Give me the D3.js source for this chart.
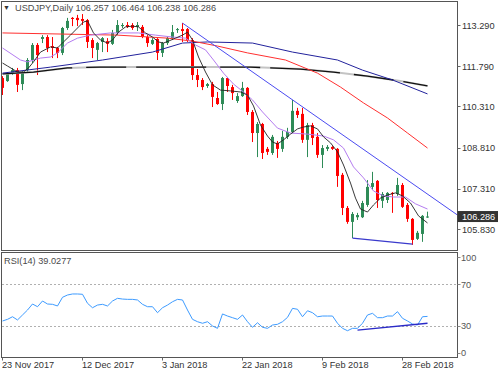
<!DOCTYPE html>
<html>
<head>
<meta charset="utf-8">
<script src="https://cdn.jsdelivr.net/npm/d3@7"></script>
<style>
  html, body { margin: 0; padding: 0; background: #fff; }
  svg { display: block; font-family: "Liberation Sans", Arial, sans-serif; }
</style>
</head>
<body>
<div id="chart"></div>
<script>
// quote header
const symbolTitle = "USDJPY,Daily";
const lastQuote = [106.257, 106.464, 106.238, 106.286];

// daily candles, one per bar (Sunday bars included)
const opens = [111.35,111.24,111.53,111.64,111.13,111.64,112.01,112.56,112.78,112.85,112.52,112.45,112.27,113.18,113.55,113.55,113.51,113.47,112.74,112.38,
  112.67,112.70,112.60,113.00,113.25,113.29,113.29,113.22,113.22,112.85,112.60,112.78,112.27,112.63,112.81,113.11,113.14,113.14,112.74,111.46,
  111.28,111.06,111.13,110.62,110.40,111.35,111.02,110.51,110.69,110.99,110.11,109.34,109.67,108.76,108.61,108.98,108.76,109.20,109.38,110.15,
  110.04,109.09,109.63,109.20,108.54,108.76,108.83,108.76,107.81,106.60,106.09,106.26,106.26,106.71,107.37,107.59,106.86,106.89,107.15,107.11,
  107.44,106.71,106.20,105.47,105.65,106.257];
const highs = [111.42,111.57,111.72,111.72,111.60,112.08,112.63,112.63,112.92,112.92,112.85,112.49,113.22,113.55,113.58,113.66,113.69,113.51,112.81,112.67,
  112.85,112.81,113.11,113.47,113.36,113.40,113.36,113.40,113.29,112.92,112.81,112.81,112.67,112.85,113.29,113.18,113.36,113.18,112.81,111.68,
  111.35,111.17,111.21,110.84,111.39,111.39,111.10,110.80,111.21,111.02,110.18,109.74,109.71,108.83,109.27,109.05,109.42,109.53,110.55,110.26,
  110.26,109.71,109.71,109.34,108.90,108.90,108.86,108.79,107.88,106.67,106.45,106.42,106.86,107.62,107.92,107.62,107.18,107.18,107.18,107.70,
  107.51,106.78,106.23,105.76,106.34,106.464];
const lows = [110.73,111.21,111.46,110.84,110.91,111.57,111.90,111.46,112.63,112.30,112.08,112.08,112.19,113.11,113.25,113.25,113.29,112.45,112.08,112.01,
  112.30,112.30,112.56,112.92,113.18,113.18,113.11,113.07,112.81,112.49,112.56,112.01,112.12,112.56,112.74,113.00,112.67,112.67,111.28,111.02,
  110.91,110.99,110.29,110.37,110.18,110.84,110.55,110.44,110.66,110.00,109.01,108.46,108.39,108.54,108.54,108.43,108.65,109.12,109.34,109.89,
  108.98,108.46,108.90,108.43,108.06,108.68,108.72,107.37,106.34,106.02,105.50,106.16,106.23,106.64,107.26,106.60,106.60,106.78,106.42,107.04,
  106.60,106.09,105.25,105.43,105.36,106.238];
const closes = [110.99,111.53,111.64,111.10,111.57,112.01,112.56,112.19,112.85,112.45,112.45,112.27,113.18,113.44,113.51,113.47,113.44,112.67,112.45,112.63,
  112.81,112.60,113.00,113.29,113.29,113.22,113.18,113.29,112.85,112.63,112.74,112.27,112.63,112.81,113.03,113.14,113.07,112.74,111.46,111.28,
  111.02,111.13,110.66,110.40,111.35,111.06,110.80,110.69,110.99,110.11,109.34,109.67,108.61,108.65,109.20,108.76,109.20,109.38,110.15,110.00,
  109.09,109.63,109.16,108.54,108.79,108.83,108.76,107.77,106.60,106.09,106.38,106.34,106.78,107.37,107.51,106.89,107.11,107.15,107.11,107.44,
  106.64,106.20,105.43,105.69,106.31,106.286];

// moving averages as [bar, price]
const maFast = [[0,111.90],[1,111.79],[3,111.57],[4.2,111.57],[5.2,111.72],[6.2,111.94],[7.6,112.30],[9.6,112.49],[11,112.45],[12.2,112.67],
  [13.6,112.92],[15,113.18],[16.2,113.40],[17,113.44],[18.2,113.00],[19.6,112.74],[21,112.63],[22,112.74],[23.2,113.03],[24.6,113.22],
  [26,113.25],[27.2,113.22],[28.6,113.00],[30,112.85],[31.2,112.67],[32.2,112.63],[33.2,112.70],[34.6,112.81],[36,112.92],[37,113.03],
  [38,112.74],[39.2,112.12],[40.6,111.57],[42,111.10],[43.6,110.91],[45.6,110.88],[47.6,110.84],[49,110.73],[50.2,110.33],[51.6,109.63],
  [53,109.23],[54,109.01],[55,108.94],[56.2,109.09],[57.6,109.30],[59,109.49],[60.2,109.56],[61.6,109.60],[63,109.49],[64.2,109.20],
  [65.6,108.98],[67,108.65],[68.2,108.17],[69.6,107.51],[70.6,106.96],[71.6,106.56],[73,106.45],[74.2,106.71],[75.6,106.96],[77,107.07],
  [78.6,107.15],[80,107.04],[81.6,106.78],[83.2,106.31],[85,106.05]];
const maMid = [[0,112.45],[3.6,112.01],[5,111.94],[7.6,112.08],[9.6,112.12],[11,112.27],[13,112.63],[15,112.81],[17.6,112.92],[21.6,113.00],
  [27.2,113.00],[30.6,112.92],[34,112.85],[36.6,112.81],[38.6,112.56],[40.6,112.38],[42.2,112.01],[44.2,111.53],[46.2,111.13],[48.2,110.84],
  [50,110.55],[52,110.11],[55,109.52],[57.6,109.34],[61,109.30],[64.2,109.23],[66.2,109.09],[68.2,108.79],[70.2,108.10],[72.2,107.70],
  [74.2,107.22],[76.2,107.04],[78.2,107.00],[80.6,107.00],[82.6,106.75],[85,106.56]];
const maSlow = [[0,113.00],[23,112.92],[33,112.81],[38,112.70],[43,112.52],[49,112.27],[56.6,112.01],[63,111.53],[67.6,111.02],[72.2,110.44],
  [77,109.89],[81,109.34],[85,108.79]];
const maLong = [[0,111.53],[9.6,111.75],[20,112.01],[30,112.30],[36,112.63],[41,112.67],[50,112.63],[58,112.30],[67,112.01],[72,111.64],
  [78,111.28],[85,110.77]];
const maTrend = [[0,111.50],[6.2,111.57],[13,111.72],[19.6,111.75],[26,111.75],[49.6,111.75],[59.6,111.68],[66.2,111.57],[73,111.42],
  [79.6,111.24],[85,111.06]];

// drawn trendlines [bar, value]
const upperTrend = [[36,113.36],[91,106.34]];
const lowerTrend = [[70,105.50],[82,105.28]];
const rsiTrend = [[71,25.8],[85,32.4]];

const rsiValues = [34.6,36.2,38.7,35.6,40.4,45.2,51.0,48.4,53.9,51.0,50.7,49.1,57.5,59.7,60.7,60.7,60.4,51.7,47.4,50.0,
  50.7,49.1,53.9,56.5,55.8,55.5,55.5,54.9,50.7,48.4,48.4,42.6,47.4,50.0,53.2,55.5,54.9,45.2,36.2,33.9,
  32.4,33.9,29.8,27.5,41.4,39.4,37.8,36.2,40.4,33.9,28.5,32.9,28.5,27.5,30.7,31.4,33.9,38.1,46.8,45.9,
  38.7,44.5,42.6,38.7,39.4,39.4,39.4,32.4,27.5,25.2,27.5,27.5,32.4,40.4,42.0,37.8,37.8,39.4,39.4,43.6,
  37.2,34.6,31.7,30.7,38.7,39.03];
const rsiLabel = "RSI(14) 39.0277";

const priceTicks = [113.29, 111.79, 110.31, 108.81, 107.31, 105.83];
const rsiTicks = [70, 30];
const rsiAxisLabels = [[100, 96], [70, 70], [30, 30], [0, 4]];
const dateTicks = [0, 16, 32, 48, 64, 80];
const dateLabels = ["23 Nov 2017", "12 Dec 2017", "3 Jan 2018", "22 Jan 2018", "9 Feb 2018", "28 Feb 2018"];

const W = 498, H = 371;
const frame = { left: 1.5, right: 457.5, top: 1.5, mainBottom: 250.5, rsiTop: 252.5, bottom: 357.5 };
const bull = "#2e8b57", bear = "#ff0000";

const svg = d3.select("#chart").append("svg")
  .attr("width", W).attr("height", H);

const x = d3.scaleLinear().domain([0, 85]).range([2.5, 427.5]);
const y = d3.scaleLinear().domain([105.83, 113.29]).range([229, 25]);
const yr = d3.scaleLinear().domain([0, 100]).range([356.8, 253.3]);

svg.append("defs").append("clipPath").attr("id", "mainClip")
  .append("rect").attr("x", 2).attr("y", 2).attr("width", 455).attr("height", 248);
svg.select("defs").append("clipPath").attr("id", "rsiClip")
  .append("rect").attr("x", 2).attr("y", 253).attr("width", 455).attr("height", 104);

const main = svg.append("g").attr("clip-path", "url(#mainClip)");

// candles
const bars = opens.map((o, i) => ({ i, o, h: highs[i], l: lows[i], c: closes[i] }));
main.selectAll("line.wick").data(bars).join("line")
  .attr("class", "wick")
  .attr("x1", d => x(d.i)).attr("x2", d => x(d.i))
  .attr("y1", d => y(d.h)).attr("y2", d => y(d.l))
  .attr("stroke", d => d.c >= d.o ? bull : bear)
  .attr("stroke-width", 1);
main.selectAll("rect.body").data(bars).join("rect")
  .attr("class", "body")
  .attr("x", d => x(d.i) - 1.5).attr("width", 3)
  .attr("y", d => y(Math.max(d.o, d.c)))
  .attr("height", d => Math.max(1, Math.abs(y(d.o) - y(d.c))))
  .attr("fill", d => d.c >= d.o ? bull : bear);

const priceLine = d3.line().x(d => x(d[0])).y(d => y(d[1]));
const addLine = (g, pts, gen, color, width, dash) => g.append("path")
  .datum(pts).attr("d", gen)
  .attr("fill", "none").attr("stroke", color).attr("stroke-width", width)
  .attr("stroke-dasharray", dash || null);

// long average: black with the odd grey stretch showing through
addLine(main, maTrend, priceLine, "#c4c4c4", 2);
addLine(main, maTrend, priceLine, "#111", 1.3, "70,14,40,10");
addLine(main, maLong, priceLine, "#22229c", 1);
addLine(main, maSlow, priceLine, "#ff3030", 1);
addLine(main, maMid, priceLine, "#b47cf0", 1);
addLine(main, maFast, priceLine, "#222", 0.9);
addLine(main, upperTrend, priceLine, "#4b4bf0", 1);
addLine(main, lowerTrend, priceLine, "#3a3acc", 1.3);

// RSI panel
const rsi = svg.append("g").attr("clip-path", "url(#rsiClip)");
rsi.selectAll("line.lvl").data(rsiTicks).join("line")
  .attr("class", "lvl")
  .attr("x1", 2).attr("x2", 457)
  .attr("y1", d => Math.round(yr(d)) + 0.5).attr("y2", d => Math.round(yr(d)) + 0.5)
  .attr("stroke", "#b0b0b0").attr("stroke-dasharray", "2,2");
const rsiLine = d3.line().x((d, i) => x(i)).y(d => yr(d));
addLine(rsi, rsiValues, rsiLine, "#3d9bff", 1);
addLine(rsi, rsiTrend, d3.line().x(d => x(d[0])).y(d => yr(d[1])), "#2a2ac8", 1.3);

// frames
const frameColor = "#555";
svg.append("rect")
  .attr("x", frame.left).attr("y", frame.top)
  .attr("width", frame.right - frame.left).attr("height", frame.mainBottom - frame.top)
  .attr("fill", "none").attr("stroke", frameColor);
svg.append("rect")
  .attr("x", frame.left).attr("y", frame.rsiTop)
  .attr("width", frame.right - frame.left).attr("height", frame.bottom - frame.rsiTop)
  .attr("fill", "none").attr("stroke", frameColor);

// price axis
const axisText = "#333";
svg.selectAll("line.ptick").data(priceTicks).join("line")
  .attr("class", "ptick")
  .attr("x1", frame.right).attr("x2", frame.right + 3)
  .attr("y1", d => Math.round(y(d)) + 0.5).attr("y2", d => Math.round(y(d)) + 0.5)
  .attr("stroke", "#666");
svg.selectAll("text.plabel").data(priceTicks).join("text")
  .attr("class", "plabel")
  .attr("x", 462).attr("y", d => y(d) + 3.5)
  .attr("font-size", 9.2).attr("fill", axisText)
  .text(d => d3.format(".3f")(d));

// current price tag
const last = lastQuote[3];
svg.append("rect")
  .attr("x", frame.right).attr("y", y(last) - 5.5)
  .attr("width", W - frame.right).attr("height", 11)
  .attr("fill", "#333");
svg.append("text")
  .attr("x", 462).attr("y", y(last) + 3.5)
  .attr("font-size", 9.2).attr("fill", "#fff")
  .text(d3.format(".3f")(last));

// RSI axis
svg.selectAll("line.rtick").data(rsiAxisLabels).join("line")
  .attr("class", "rtick")
  .attr("x1", frame.right).attr("x2", frame.right + 3)
  .attr("y1", d => Math.round(yr(d[1])) + 0.5).attr("y2", d => Math.round(yr(d[1])) + 0.5)
  .attr("stroke", "#888");
svg.selectAll("text.rlabel").data(rsiAxisLabels).join("text")
  .attr("class", "rlabel")
  .attr("x", 461).attr("y", d => yr(d[1]) + 3.5)
  .attr("font-size", 9.2).attr("fill", "#555")
  .text(d => d[0]);

// date axis
svg.selectAll("line.dtick").data(dateTicks).join("line")
  .attr("class", "dtick")
  .attr("x1", d => Math.round(x(d)) - 0.5).attr("x2", d => Math.round(x(d)) - 0.5)
  .attr("y1", frame.bottom).attr("y2", frame.bottom + 3)
  .attr("stroke", "#666");
svg.selectAll("text.dlabel").data(dateTicks).join("text")
  .attr("class", "dlabel")
  .attr("x", d => x(d) - 0.5).attr("y", 368)
  .attr("font-size", 9.2).attr("fill", axisText)
  .text((d, i) => dateLabels[i]);

// headers
svg.append("text").attr("x", 3).attr("y", 10)
  .attr("font-size", 7).attr("fill", "#333").text("▼");
svg.append("text").attr("x", 15).attr("y", 10.5)
  .attr("font-size", 9.2).attr("fill", "#4a4a4a")
  .text(symbolTitle + "  " + lastQuote.map(d3.format(".3f")).join(" "));
svg.append("text").attr("x", 4).attr("y", 263.5)
  .attr("font-size", 9.2).attr("fill", "#4a4a4a")
  .text(rsiLabel);
</script>
</body>
</html>
